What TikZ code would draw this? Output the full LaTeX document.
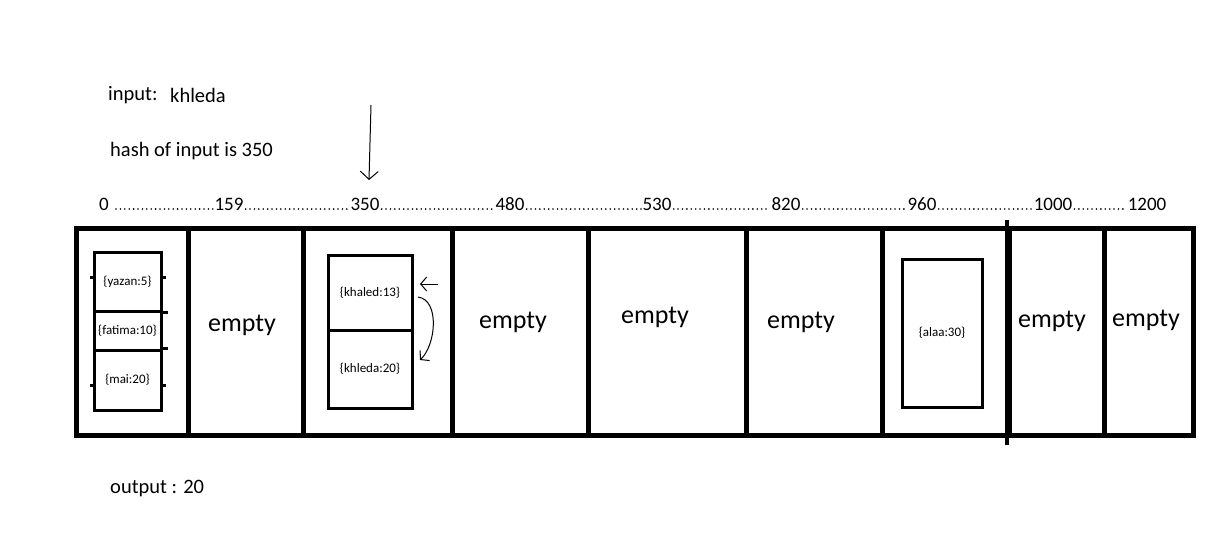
\documentclass[tikz,border=0pt]{standalone}
\usepackage{fontspec}
\setmainfont{Carlito}
\usetikzlibrary{arrows.meta}
\begin{document}
\begin{tikzpicture}[x=1pt,y=-1pt,
  cell/.style={draw, line width=5pt, inner sep=0pt, minimum height=207pt},
  entry/.style={draw, line width=3pt, inner sep=0pt, font=\fontsize{13}{15}\selectfont},
  emptytext/.style={inner sep=0pt, font=\fontsize{26}{30}\selectfont},
  plaintext/.style={inner sep=0pt, anchor=base west, font=\fontsize{20.5}{24}\selectfont},
  idxlabel/.style={inner sep=0pt, anchor=base, font=\fontsize{19}{22}\selectfont},
  dotrow/.style={line width=1.8pt, line cap=round, dash pattern=on 0pt off 4.4pt},
  pen/.style={line width=1pt, -{Straight Barb[length=8pt,width=18pt]}}]
\useasboundingbox (0,0) rectangle (1223,557);
% header texts
\node[plaintext] (inlabel) at (108,100) {input:};
\node[plaintext] (inword) at (170,102) {khleda};
\node[plaintext] (hashline) at (110,156) {hash of input is 350};
\node[plaintext] (outline) at (110,493) {output : 20};
% index row
\node[idxlabel] (n0) at (104,210) {0};
\node[idxlabel] (n159) at (229,210) {159};
\node[idxlabel] (n350) at (365,210) {350};
\node[idxlabel] (n480) at (510,210) {480};
\node[idxlabel] (n530) at (657,210) {530};
\node[idxlabel] (n820) at (786,210) {820};
\node[idxlabel] (n960) at (922,210) {960};
\node[idxlabel] (n1000) at (1053,210) {1000};
\node[idxlabel] (n1200) at (1147,210) {1200};
\draw[dotrow] ([xshift=7pt,yshift=1pt]n0.base east) -- ([xshift=-1pt,yshift=1pt]n159.base west);
\draw[dotrow] ([xshift=2pt,yshift=1pt]n159.base east) -- ([xshift=-1pt,yshift=1pt]n350.base west);
\draw[dotrow] ([xshift=2pt,yshift=1pt]n350.base east) -- ([xshift=-1pt,yshift=1pt]n480.base west);
\draw[dotrow] ([xshift=2pt,yshift=1pt]n480.base east) -- ([xshift=-1pt,yshift=1pt]n530.base west);
\draw[dotrow] ([xshift=2pt,yshift=1pt]n530.base east) -- ([xshift=-1pt,yshift=1pt]n820.base west);
\draw[dotrow] ([xshift=2pt,yshift=1pt]n820.base east) -- ([xshift=-1pt,yshift=1pt]n960.base west);
\draw[dotrow] ([xshift=2pt,yshift=1pt]n960.base east) -- ([xshift=-1pt,yshift=1pt]n1000.base west);
\draw[dotrow] ([xshift=2pt,yshift=1pt]n1000.base east) -- ([xshift=-1pt,yshift=1pt]n1200.base west);
% table cells
\node[cell, minimum width=112pt] (c0) at (132,331.5) {};
\node[cell, minimum width=115pt] (c1) at (245.5,331.5) {};
\node[cell, minimum width=149pt] (c2) at (377.5,331.5) {};
\node[cell, minimum width=136pt] (c3) at (520,331.5) {};
\node[cell, minimum width=158pt] (c4) at (667,331.5) {};
\node[cell, minimum width=136pt] (c5) at (814,331.5) {};
\node[cell, minimum width=127pt] (c6) at (945.5,331.5) {};
\node[cell, minimum width=95pt] (c7) at (1056.5,331.5) {};
\node[cell, minimum width=89pt] (c8) at (1148.5,331.5) {};
\draw[line width=4pt] ([yshift=6pt]c7.north west) -- ([yshift=-7pt]c7.south west);
% empty cells
\node[emptytext] (e1) at (242,325) {empty};
\node[emptytext] (e3) at (513,322) {empty};
\node[emptytext] (e4) at (655,317) {empty};
\node[emptytext] (e5) at (801,322) {empty};
\node[emptytext] (e7) at (1052,321) {empty};
\node[emptytext] (e8) at (1146,320) {empty};
% bucket 0
\node[entry, minimum width=67pt, minimum height=59pt] (yazan) at (127.5,281.5) {\{yazan:5\}};
\node[entry, minimum width=67pt, minimum height=39pt] (fatima) at (127.5,330.5) {\{fatima:10\}};
\node[entry, minimum width=67pt, minimum height=60pt] (mai) at (127.5,380) {\{mai:20\}};
\draw[line width=3pt] (yazan.south east) -- ++(5,0);
\draw[line width=3pt] (mai.north east) -- ++(5,0);
\draw[line width=3pt] ([yshift=4pt]yazan.west) -- ++(-3,0);
\draw[line width=3pt] ([yshift=4pt]yazan.east) -- ++(3,0);
\draw[line width=3pt] ([yshift=-5pt]mai.west) -- ++(-3,0);
\draw[line width=3pt] ([yshift=-5pt]mai.east) -- ++(3,0);
% bucket 350
\node[entry, minimum width=84pt, minimum height=75pt] (khaled) at (370,292.5) {\{khaled:13\}};
\node[entry, minimum width=84pt, minimum height=78pt] (khleda) at (370,369) {\{khleda:20\}};
% bucket 960
\node[entry, minimum width=80pt, minimum height=148pt] (alaa) at (942,333) {\{alaa:30\}};
% arrows
\coordinate (hashtop) at (371,105);
\coordinate (hashtip) at (369,180);
\draw[pen] (hashtop) -- (hashtip);
\coordinate (backstart) at (438,284);
\coordinate (backtip) at (420,284);
\draw[line width=1pt, -{Straight Barb[length=6pt,width=14pt]}] (backstart) -- (backtip);
\coordinate (swapstart) at (418,297);
\coordinate (swaptip) at (420,360);
\draw[line width=1pt, -{Straight Barb[length=6pt,width=14pt]}] (swapstart) .. controls (440,300) and (436,345) .. (swaptip);
\end{tikzpicture}
\end{document}
